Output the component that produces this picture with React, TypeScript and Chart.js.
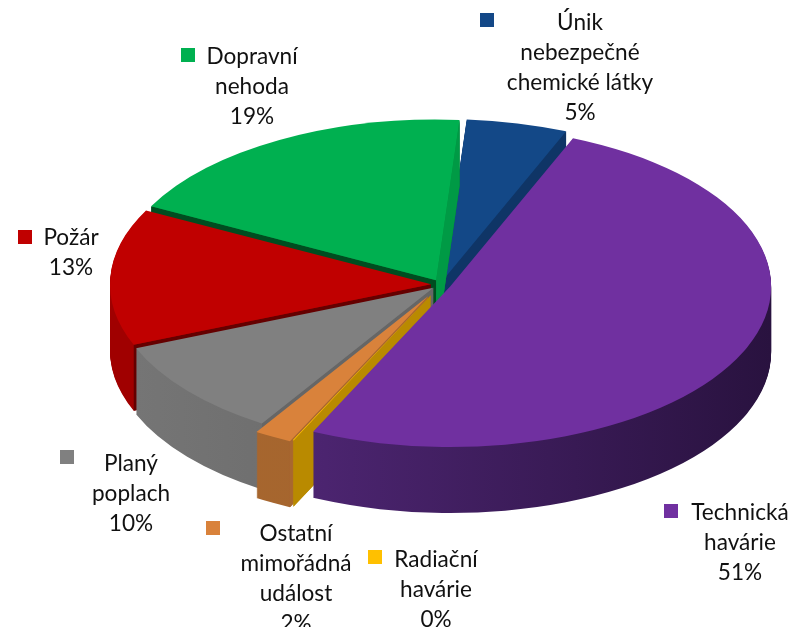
import React, { useEffect, useRef } from "react";
import { Chart, registerables } from "chart.js";

Chart.register(...registerables);

const categories = [
  ["Technická", "havárie"],
  ["Radiační", "havárie"],
  ["Ostatní", "mimořádná", "událost"],
  ["Planý", "poplach"],
  ["Požár"],
  ["Dopravní", "nehoda"],
  ["Únik", "nebezpečné", "chemické látky"],
];
const values = [50.9, 0.05, 1.9, 9.9, 13.8, 18.6, 5.1];
const percentLabels = ["51%", "0%", "2%", "10%", "13%", "19%", "5%"];

const topColors = ["#7030A0", "#FFC000", "#D9823B", "#808080", "#C00000", "#00B050", "#134887"];
// outer wall gradient: colour at the left / right of the pie
const wallLeft = ["#5a2c84", "#b98a00", "#a8672f", "#767676", "#a00000", "#00803a", "#0f3566"];
const wallRight = ["#29123f", "#b98a00", "#a0622c", "#5a5a5a", "#a00000", "#00803a", "#0f3566"];
// colour of the radial cut faces [start edge, end edge]
const cutStart = ["#3c1a5a", "#b98a00", "#a8672f", "#666666", "#650000", "#004d20", "#0f3566"];
const cutEnd = ["#3c1a5a", "#b98a00", "#a8672f", "#666666", "#650000", "#009a45", "#0f3566"];
// how far each slice is pulled out of the pie
const explode = [10, 24, 27, 10, 10, 10, 10];

// label layout: centre x, first line centre y, key box x, key box y
const labelLayout = [
  [740, 513, 664, 504],
  [436, 560, 368, 550],
  [296, 534, 206, 521],
  [131, 464, 60, 450],
  [71, 238, 18, 230],
  [252, 57, 181, 48],
  [580, 23, 480, 13],
];

const CENTER_X = 441;
const CENTER_Y = 284.5;
const RADIUS = 321;
const SQUASH = 0.5;
const DEPTH = 66;
const LINE_HEIGHT = 29.8;
const KEY = 14;
const FONT = '22.6px Lato, "Open Sans", sans-serif';

const pie3d = {
  id: "pie3d",
  beforeDatasetDraw(chart: any, args: any) {
    const ctx = chart.ctx as CanvasRenderingContext2D;
    const arcs = args.meta.data;
    const cy0 = arcs[0].y;
    const left = CENTER_X - RADIUS;
    const right = CENTER_X + RADIUS;
    ctx.save();
    ctx.translate(0, CENTER_Y);
    ctx.scale(1, SQUASH);
    ctx.translate(0, -cy0);
    for (let i = arcs.length - 1; i >= 0; i--) {
      const arc = arcs[i];
      const mid = (arc.startAngle + arc.endAngle) / 2;
      const base = arc.options;
      ctx.save();
      ctx.translate(Math.cos(mid) * explode[i], Math.sin(mid) * explode[i]);

      const grad = ctx.createLinearGradient(left, 0, right, 0);
      grad.addColorStop(0, wallLeft[i]);
      grad.addColorStop(1, wallRight[i]);
      arc.options = Object.create(base, { backgroundColor: { value: grad } });
      for (let d = DEPTH; d >= 1; d--) {
        ctx.save();
        ctx.translate(0, d / SQUASH);
        arc.draw(ctx);
        ctx.restore();
      }
      arc.options = base;

      // radial cut faces that look towards the viewer
      [
        [arc.startAngle, cutStart[i]],
        [arc.endAngle, cutEnd[i]],
      ].forEach(([a, color]: any) => {
        const ex = Math.cos(a);
        const ey = Math.sin(a);
        let nx = -ey;
        let ny = ex;
        if (ny < 0) {
          nx = -nx;
          ny = -ny;
        }
        if (Math.cos(mid) * nx + Math.sin(mid) * ny >= 0) return;
        const px = arc.x + ex * arc.outerRadius;
        const py = arc.y + ey * arc.outerRadius;
        const dy = DEPTH / SQUASH;
        ctx.beginPath();
        ctx.moveTo(arc.x, arc.y);
        ctx.lineTo(px, py);
        ctx.lineTo(px, py + dy);
        ctx.lineTo(arc.x, arc.y + dy);
        ctx.closePath();
        ctx.fillStyle = color;
        ctx.fill();
      });

      arc.draw(ctx);
      ctx.restore();
    }
    ctx.restore();
    return false;
  },
  afterDraw(chart: any) {
    const ctx = chart.ctx as CanvasRenderingContext2D;
    ctx.save();
    ctx.font = FONT;
    ctx.textAlign = "center";
    ctx.textBaseline = "middle";
    categories.forEach((lines, i) => {
      const [cx, y0, kx, ky] = labelLayout[i];
      ctx.fillStyle = topColors[i];
      ctx.fillRect(kx, ky, KEY, KEY);
      ctx.fillStyle = "#111111";
      [...lines, percentLabels[i]].forEach((text, j) => {
        ctx.fillText(text, cx, y0 + j * LINE_HEIGHT);
      });
    });
    ctx.restore();
  },
};

export default function App() {
  const ref = useRef<HTMLCanvasElement>(null);
  useEffect(() => {
    document.body.style.margin = "0";
    const chart = new Chart(ref.current as HTMLCanvasElement, {
      type: "pie",
      data: {
        labels: categories.map((c) => c.join(" ")),
        datasets: [
          {
            data: values,
            backgroundColor: topColors,
            borderWidth: 0,
            clip: false,
          } as any,
        ],
      },
      options: {
        responsive: false,
        animation: false,
        events: [],
        rotation: 22.5,
        radius: RADIUS,
        layout: { padding: { left: 2 * CENTER_X - 792 } },
        plugins: { legend: { display: false }, tooltip: { enabled: false } },
      } as any,
      plugins: [pie3d],
    });
    return () => chart.destroy();
  }, []);
  return <canvas ref={ref} width={792} height={627} style={{ display: "block" }} />;
}
